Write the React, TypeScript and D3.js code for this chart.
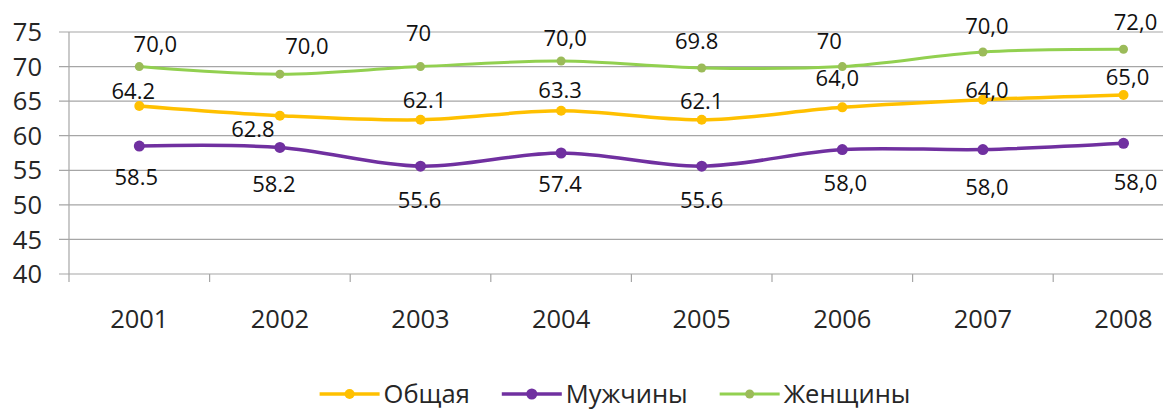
import { useEffect, useRef } from 'react'
import * as d3 from 'd3'

const years = ['2001', '2002', '2003', '2004', '2005', '2006', '2007', '2008']
const yTicks = [40, 45, 50, 55, 60, 65, 70, 75]

// values as drawn on the chart
const totalValues = [64.3, 62.9, 62.3, 63.6, 62.3, 64.1, 65.2, 65.9]
const menValues = [58.5, 58.3, 55.6, 57.5, 55.6, 58.0, 58.0, 58.9]
const womenValues = [70.0, 68.9, 70.0, 70.8, 69.8, 70.0, 72.1, 72.5]

// data labels as typed on the chart
const totalLabels = ['64.2', '62.8', '62.1', '63.3', '62.1', '64,0', '64,0', '65,0']
const menLabels = ['58.5', '58.2', '55.6', '57.4', '55.6', '58,0', '58,0', '58,0']
const womenLabels = ['70,0', '70,0', '70', '70,0', '69.8', '70', '70,0', '72,0']

// label nudges (dx, dy) from each point, as placed by hand in the original
const totalNudges = [[-6, -15], [-27, 13], [4, -20], [-1, -21], [0, -19], [-5, -29], [4, -10], [4, -18]]
const menNudges = [[-3, 31], [-6, 37], [-1, 34], [-1, 31], [0, 34], [3, 34], [4, 38], [12, 39]]
const womenNudges = [[16, -22], [27, -28], [-2, -33], [4, -23], [-5, -27], [-13, -25], [4, -26], [12, -27]]

const seriesNames = ['Общая', 'Мужчины', 'Женщины']

const W = 1163
const H = 409
const FONT = "'Open Sans', 'Liberation Sans', sans-serif"
const AXIS_SIZE = '25.5px'

export default function App() {
  const svgRef = useRef<SVGSVGElement>(null)

  useEffect(() => {
    if (!svgRef.current) return
    const svg = d3.select(svgRef.current)
    svg.selectAll('*').remove()

    const series = [
      { name: seriesNames[0], values: totalValues, labels: totalLabels, nudges: totalNudges, color: '#FFC000', marker: '#FFC000', r: 5, width: 3.5 },
      { name: seriesNames[1], values: menValues, labels: menLabels, nudges: menNudges, color: '#7030A0', marker: '#7030A0', r: 5.5, width: 3.5 },
      { name: seriesNames[2], values: womenValues, labels: womenLabels, nudges: womenNudges, color: '#92D050', marker: '#9BBB59', r: 4.5, width: 3 },
    ]

    const plotLeft = 69
    const step = 140.6
    const x = d3.scaleBand<string>()
      .domain(years)
      .range([plotLeft, plotLeft + step * years.length])
    const cx = (yr: string) => (x(yr) ?? 0) + x.bandwidth() / 2

    const y = d3.scaleLinear().domain([40, 75]).range([274, 32])

    const gridColor = '#A6A6A6'

    // horizontal gridlines (with the little tick stubs to the left)
    svg.append('g')
      .selectAll('line')
      .data(yTicks)
      .enter().append('line')
      .attr('x1', plotLeft - 10)
      .attr('x2', plotLeft + step * years.length)
      .attr('y1', d => y(d))
      .attr('y2', d => y(d))
      .attr('stroke', gridColor)
      .attr('stroke-width', 1.2)

    // vertical axis line
    svg.append('line')
      .attr('x1', plotLeft).attr('x2', plotLeft)
      .attr('y1', y(75)).attr('y2', y(40) + 8)
      .attr('stroke', gridColor)
      .attr('stroke-width', 1.2)

    // category tick marks under the x axis
    svg.append('g')
      .selectAll('line')
      .data(years)
      .enter().append('line')
      .attr('x1', d => (x(d) ?? 0) + x.bandwidth())
      .attr('x2', d => (x(d) ?? 0) + x.bandwidth())
      .attr('y1', y(40))
      .attr('y2', y(40) + 8)
      .attr('stroke', gridColor)
      .attr('stroke-width', 1.2)

    // y tick labels
    svg.append('g')
      .selectAll('text')
      .data(yTicks)
      .enter().append('text')
      .attr('x', 42)
      .attr('y', d => y(d))
      .attr('dy', '0.36em')
      .attr('text-anchor', 'end')
      .style('font-family', FONT)
      .style('font-size', AXIS_SIZE)
      .style('fill', '#262626')
      .text(d => d)

    // x tick labels
    svg.append('g')
      .selectAll('text')
      .data(years)
      .enter().append('text')
      .attr('x', d => cx(d))
      .attr('y', 328)
      .attr('text-anchor', 'middle')
      .style('font-family', FONT)
      .style('font-size', AXIS_SIZE)
      .style('fill', '#262626')
      .text(d => d)

    const line = d3.line<number>()
      .x((_d, i) => cx(years[i]))
      .y(d => y(d))
      .curve(d3.curveCatmullRom.alpha(0.5))

    series.forEach(s => {
      svg.append('path')
        .datum(s.values)
        .attr('d', line)
        .attr('fill', 'none')
        .attr('stroke', s.color)
        .attr('stroke-width', s.width)
        .attr('stroke-linecap', 'round')
    })

    series.forEach(s => {
      svg.append('g')
        .selectAll('circle')
        .data(s.values)
        .enter().append('circle')
        .attr('cx', (_d, i) => cx(years[i]))
        .attr('cy', d => y(d))
        .attr('r', s.r)
        .attr('fill', s.marker)
    })

    // data labels
    series.forEach(s => {
      svg.append('g')
        .selectAll('text')
        .data(s.values)
        .enter().append('text')
        .attr('x', (_d, i) => cx(years[i]) + s.nudges[i][0])
        .attr('y', (d, i) => y(d) + s.nudges[i][1])
        .attr('dy', '0.36em')
        .attr('text-anchor', 'middle')
        .style('font-family', FONT)
        .style('font-size', '22px')
        .style('fill', '#111')
        .text((_d, i) => s.labels[i])
    })

    // legend (nudged up a bit so the descenders stay inside the frame)
    const legend = svg.append('g')
    const legendY = 394
    const lineLen = 60
    const items = series.map(s => {
      const g = legend.append('g')
      g.append('line')
        .attr('x1', 0).attr('x2', lineLen)
        .attr('y1', legendY).attr('y2', legendY)
        .attr('stroke', s.color)
        .attr('stroke-width', s.width)
      g.append('circle')
        .attr('cx', lineLen / 2).attr('cy', legendY)
        .attr('r', s.r).attr('fill', s.marker)
      const t = g.append('text')
        .attr('x', lineLen + 4)
        .attr('y', legendY)
        .attr('dy', '0.36em')
        .style('font-family', FONT)
        .style('font-size', AXIS_SIZE)
        .style('fill', '#262626')
        .text(s.name)
      const w = (t.node() as SVGTextElement).getComputedTextLength()
      return { g, width: lineLen + 4 + w }
    })
    const gap = 32
    const total = d3.sum(items, d => d.width) + gap * (items.length - 1)
    let pos = 615 - total / 2
    items.forEach(it => {
      it.g.attr('transform', `translate(${pos},0)`)
      pos += it.width + gap
    })
  }, [])

  return (
    <div>
      <style>{'body{margin:0;background:#fff}'}</style>
      <svg ref={svgRef} width={W} height={H} style={{ display: 'block', background: '#fff' }} />
    </div>
  )
}
